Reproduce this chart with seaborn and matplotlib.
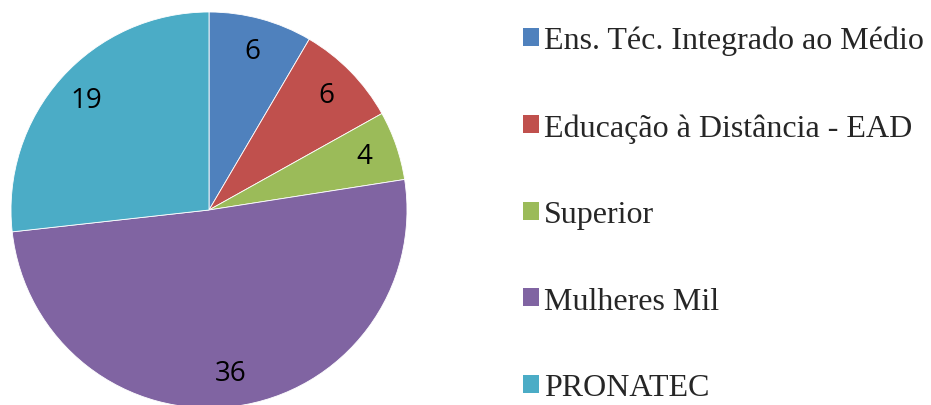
import matplotlib
matplotlib.use("Agg")
import matplotlib.pyplot as plt
import seaborn as sns

categories = ["Ens. Téc. Integrado ao Médio", "Educação à Distância - EAD",
              "Superior", "Mulheres Mil", "PRONATEC"]
values = [6, 6, 4, 36, 19]
colors = ["#4F81BD", "#C0504D", "#9BBB59", "#8064A2", "#4BACC6"]

sns.set_theme(style="white")
plt.rcParams["font.family"] = ["Open Sans", "DejaVu Sans"]

fig = plt.figure(figsize=(9.31, 4.06), dpi=100)
cx, cy, r = 209, 211, 198
W, H = 931, 406
ax = fig.add_axes([(cx - r) / W, (H - cy - r) / H, 2 * r / W, 2 * r / H])

palette = sns.color_palette(colors)
wedges, texts, autotexts = ax.pie(
    values, colors=palette, startangle=90, counterclock=False,
    autopct=lambda p: f"{round(p * sum(values) / 100):d}",
    pctdistance=0.83, radius=1,
    wedgeprops=dict(linewidth=0.6, edgecolor="white"),
    textprops=dict(fontsize=20, color="black"))
ax.set_xlim(-1, 1)
ax.set_ylim(-1, 1)
ax.set_aspect("equal")
ax.axis("off")

leg = fig.legend(wedges, categories, loc="upper left",
                 bbox_to_anchor=(523 / W, 1 - 27 / H),
                 frameon=False,
                 prop=dict(family="Liberation Serif", size=23),
                 handlelength=0.5, handleheight=0.5, handletextpad=0.15,
                 labelspacing=1.8, borderpad=0, borderaxespad=0)
for h in leg.legend_handles:
    h.set_linewidth(0)

fig.savefig("out.png", dpi=100)
